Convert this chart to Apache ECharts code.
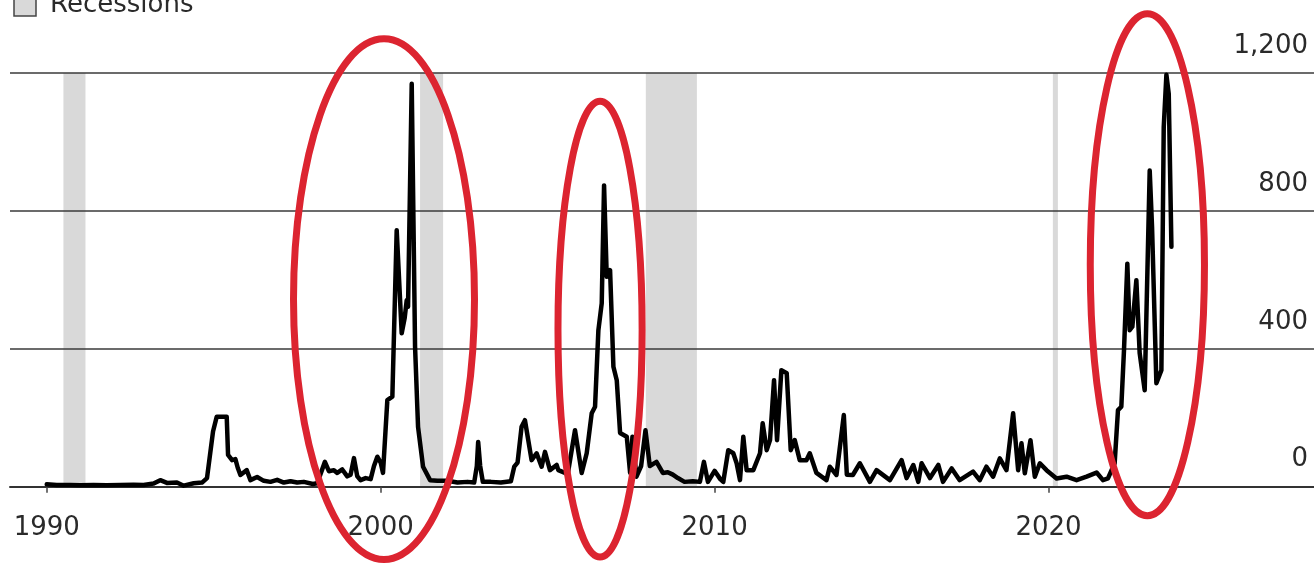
<!DOCTYPE html>
<html>
<head>
<meta charset="utf-8">
<title>Recessions</title>
<script src="https://cdn.jsdelivr.net/npm/echarts@6/dist/echarts.min.js"></script>
<style>
  html, body { margin: 0; padding: 0; background: #fff; }
  #chart { width: 1314px; height: 566px; }
</style>
</head>
<body>
<div id="chart"></div>
<script>
// values: [year, value]
var seriesData = [
  [1990.0, 7], [1990.3, 5], [1990.7, 5], [1991.0, 4], [1991.4, 5], [1991.8, 4],
  [1992.2, 5], [1992.6, 6], [1992.9, 5], [1993.2, 9], [1993.4, 19], [1993.6, 11],
  [1993.9, 12], [1994.1, 3], [1994.4, 10], [1994.65, 12], [1994.8, 25], [1994.98, 160],
  [1995.09, 203], [1995.39, 203], [1995.43, 92], [1995.55, 77], [1995.65, 80], [1995.72, 55],
  [1995.8, 34], [1995.99, 48], [1996.1, 19], [1996.3, 28], [1996.5, 17], [1996.7, 14],
  [1996.9, 20], [1997.1, 12], [1997.3, 16], [1997.5, 12], [1997.7, 14], [1997.97, 8],
  [1998.1, 10], [1998.33, 72], [1998.45, 45], [1998.6, 48], [1998.7, 40], [1998.85, 50],
  [1999.0, 30], [1999.1, 35], [1999.2, 83], [1999.3, 30], [1999.4, 19], [1999.55, 25],
  [1999.7, 22], [1999.8, 60], [1999.9, 87], [2000.0, 70], [2000.07, 40], [2000.2, 251],
  [2000.35, 261], [2000.48, 744], [2000.63, 445], [2000.72, 490], [2000.78, 541], [2000.82, 522],
  [2000.93, 1169], [2001.03, 406], [2001.12, 173], [2001.27, 58], [2001.48, 19], [2001.7, 17],
  [2002.0, 17], [2002.3, 12], [2002.6, 14], [2002.8, 12], [2002.88, 60], [2002.92, 130],
  [2002.98, 60], [2003.06, 14], [2003.3, 14], [2003.6, 12], [2003.9, 16], [2004.0, 58],
  [2004.1, 70], [2004.22, 174], [2004.32, 193], [2004.37, 188], [2004.52, 77], [2004.67, 97],
  [2004.82, 58], [2004.92, 101], [2005.07, 48], [2005.27, 63], [2005.32, 48], [2005.52, 40],
  [2005.6, 35], [2005.82, 164], [2006.02, 40], [2006.17, 97], [2006.32, 213], [2006.42, 232],
  [2006.52, 454], [2006.62, 532], [2006.69, 874], [2006.77, 609], [2006.87, 628], [2006.97, 348],
  [2007.07, 309], [2007.17, 156], [2007.37, 145], [2007.47, 40], [2007.54, 145], [2007.66, 29],
  [2007.8, 60], [2007.93, 164], [2008.06, 60], [2008.26, 72], [2008.45, 40], [2008.6, 42],
  [2008.75, 35], [2008.9, 25], [2009.1, 14], [2009.35, 16], [2009.56, 14], [2009.68, 72],
  [2009.8, 14], [2010.0, 46], [2010.17, 22], [2010.26, 14], [2010.41, 106], [2010.56, 97],
  [2010.66, 68], [2010.76, 19], [2010.86, 145], [2010.96, 48], [2011.16, 48], [2011.36, 97],
  [2011.44, 184], [2011.56, 106], [2011.66, 135], [2011.78, 309], [2011.87, 135], [2012.0, 338],
  [2012.16, 329], [2012.28, 106], [2012.4, 135], [2012.55, 77], [2012.75, 77], [2012.85, 97],
  [2013.05, 40], [2013.35, 19], [2013.45, 58], [2013.65, 34], [2013.87, 208], [2013.96, 35],
  [2014.14, 34], [2014.35, 68], [2014.65, 14], [2014.85, 48], [2015.25, 19], [2015.6, 77],
  [2015.75, 25], [2015.95, 63], [2016.1, 14], [2016.2, 68], [2016.45, 25], [2016.7, 63],
  [2016.84, 14], [2017.1, 53], [2017.34, 19], [2017.74, 44], [2017.94, 19], [2018.14, 58],
  [2018.34, 29], [2018.54, 82], [2018.74, 48], [2018.94, 213], [2019.09, 48], [2019.19, 126],
  [2019.29, 39], [2019.46, 135], [2019.59, 29], [2019.74, 68], [2019.94, 48], [2020.24, 24],
  [2020.54, 29], [2020.84, 19], [2021.14, 29], [2021.44, 41], [2021.63, 19], [2021.78, 24],
  [2021.98, 68], [2022.08, 222], [2022.18, 232], [2022.26, 396], [2022.36, 647], [2022.43, 454],
  [2022.51, 464], [2022.63, 599], [2022.73, 387], [2022.88, 280], [2023.03, 917], [2023.1, 754],
  [2023.23, 300], [2023.38, 338], [2023.45, 1043], [2023.53, 1195], [2023.6, 1140], [2023.68, 696]
];

// recession periods [start, end]
var recessions = [
  [1990.5, 1991.16],
  [2001.18, 2001.87],
  [2007.94, 2009.47],
  [2020.13, 2020.28]
];

var xTicks = [1990, 2000, 2010, 2020];

// red circles: [centerYear, centerValue, radiusYears, radiusValue]
var circles = [
  [2000.1, 544, 2.71, 755],
  [2006.57, 457, 1.26, 661],
  [2022.96, 644, 1.71, 728]
];

var textFont = "DejaVu Sans";
var chart = echarts.init(document.getElementById("chart"));

chart.setOption({
  animation: false,
  grid: {
    left: 10,
    right: 0,
    top: 73,
    bottom: 79.3
  },
  xAxis: {
    type: "value",
    min: 1988.9,
    max: 2027.95,
    splitLine: { show: false },
    axisLine: {
      show: true,
      lineStyle: { color: "#333", width: 2 }
    },
    axisTick: {
      show: true,
      customValues: xTicks,
      length: 6,
      lineStyle: { color: "#444", width: 1.5 }
    },
    axisLabel: {
      customValues: xTicks,
      formatter: function(v) {
        return String(v);
      },
      margin: 29,
      color: "#2a2a2a",
      fontFamily: textFont,
      fontSize: 26
    }
  },
  yAxis: {
    type: "value",
    position: "right",
    min: 0,
    max: 1200,
    interval: 400,
    axisLine: { show: false },
    axisTick: { show: false },
    splitLine: {
      show: true,
      lineStyle: { color: "#3a3a3a", width: 1.5 }
    },
    axisLabel: {
      inside: true,
      margin: 6,
      verticalAlign: "bottom",
      padding: [0, 0, 14, 0],
      color: "#2a2a2a",
      fontFamily: textFont,
      fontSize: 26
    }
  },
  series: [
    {
      // recession bands only
      name: "Recessions",
      type: "line",
      z: -1,
      data: [],
      markArea: {
        silent: true,
        z: -1,
        itemStyle: { color: "#d9d9d9" },
        data: recessions.map(function(r) {
          return [{ xAxis: r[0] }, { xAxis: r[1] }];
        })
      }
    },
    {
      type: "line",
      data: seriesData,
      clip: false,
      symbol: "none",
      lineStyle: { color: "#000", width: 4.5, join: "round", cap: "round" }
    }
  ]
});

// legend and annotation circles, placed from data coordinates
var graphics = [
  {
    type: "rect",
    shape: { x: 14, y: -5, width: 22, height: 21 },
    style: { fill: "#d9d9d9", stroke: "#444", lineWidth: 1.5 }
  },
  {
    type: "text",
    x: 50,
    y: 18,
    style: {
      text: "Recessions",
      fill: "#2a2a2a",
      font: "26px '" + textFont + "'",
      textVerticalAlign: "bottom"
    }
  }
];
circles.forEach(function(c) {
  var center = chart.convertToPixel({ gridIndex: 0 }, [c[0], c[1]]);
  var edge = chart.convertToPixel({ gridIndex: 0 }, [c[0] + c[2], c[1] + c[3]]);
  graphics.push({
    type: "ellipse",
    silent: true,
    z: 10,
    shape: {
      cx: center[0],
      cy: center[1],
      rx: Math.abs(edge[0] - center[0]),
      ry: Math.abs(edge[1] - center[1])
    },
    style: { fill: "none", stroke: "#dc2430", lineWidth: 7 }
  });
});
chart.setOption({ graphic: graphics });
</script>
</body>
</html>
